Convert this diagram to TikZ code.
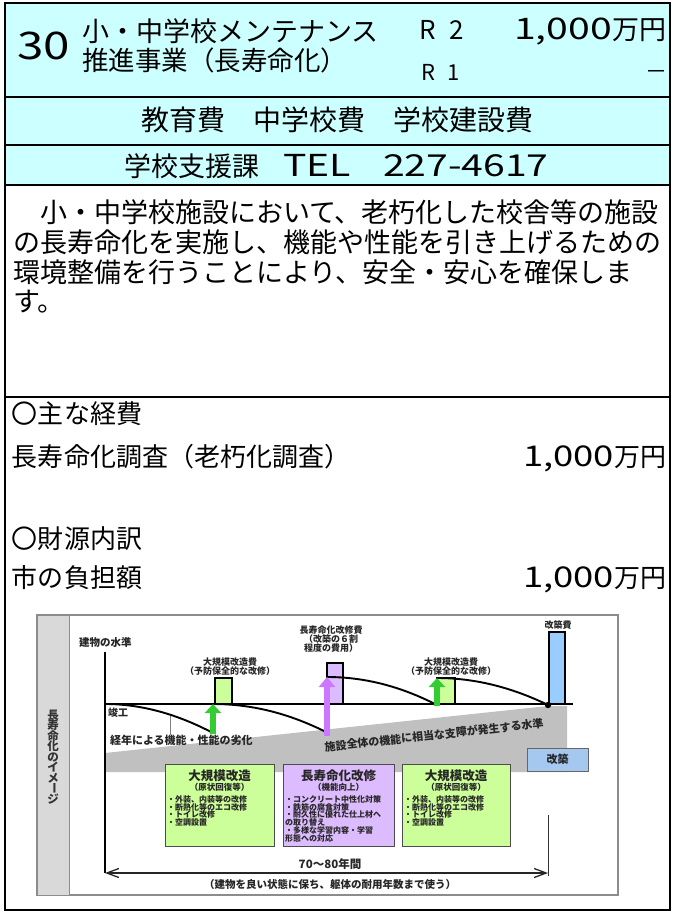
\documentclass[tikz,border=0pt]{standalone}
\usepackage{fontspec}
\setmainfont{Noto Sans CJK JP}
\usetikzlibrary{arrows.meta}
\definecolor{hdr}{HTML}{CCFFFF}
\definecolor{lgreen}{HTML}{CCFF99}
\definecolor{lpurple}{HTML}{DDBBFF}
\definecolor{lblue}{HTML}{99CCFF}
\definecolor{kblue}{HTML}{A4C8F0}
\definecolor{bandgray}{HTML}{C0C0C0}
\definecolor{colgray}{HTML}{D9D9D9}
\definecolor{agreen}{HTML}{33CC33}
\definecolor{apurple}{HTML}{CC77FF}
\newcommand\fsz[1]{\fontsize{#1}{#1}\selectfont}
\newcommand\wdig[3]{\scalebox{#1}[#2]{#3}}
\begin{document}
\begin{tikzpicture}[x=1pt,y=-1pt,
  tx/.style={inner sep=0pt,outer sep=0pt},
  dtx/.style={tx,text=black!85,font={\bfseries\fsz{9}}},
  itemtx/.style={tx,anchor=west,text=black!85,font={\bfseries\fsz{8}}},
  btitle/.style={tx,text=black!85,font={\bfseries\fsz{12.5}}},
  bsub/.style={tx,text=black!85,font={\bfseries\fsz{8.5}}},
  bigbox/.style={draw=black!70,line width=0.8pt,minimum width=109pt,minimum height=82pt,anchor=north west,inner sep=0pt},
  smallbox/.style={draw=black,line width=1.6pt},
  curve/.style={line width=1.9pt,black},
  vch/.style={tx,text=black!80,font={\bfseries\fsz{11.5}}},
  rowline/.style={line width=1.2pt}
]
\useasboundingbox (0,0) rectangle (674,912);
\fill[white] (0,0) rectangle (674,912);
% ---------- header ----------
\fill[hdr] (5,3) rectangle (670,185);
\draw[rowline] (5,97) -- (670,97);
\draw[rowline] (5,145) -- (670,145);
\draw[rowline] (5,185) -- (670,185);
\draw[rowline] (5,397) -- (670,397);
\draw[line width=1.5pt] (5,3) rectangle (670,910);

\node[tx,anchor=base west,font={\fsz{38}}] (no) at (17,60) {\wdig{1.25}{1}{30}};
\node[tx,anchor=base west,font={\fsz{27}}] (ti1) at (82,42) {小・中学校メンテナンス};
\node[tx,anchor=base west,font={\fsz{26.5}}] (ti2) at (82,71) {推進事業（長寿命化）};
\node[tx,anchor=base west,font={\fsz{26}}] (r2) at (419,40) {R\hspace{14pt}2};
\node[tx,anchor=base east,font={\fsz{27}}] (amt) at (666,40) {\wdig{1.45}{1.1}{1,000}万円};
\node[tx,anchor=base west,font={\fsz{22}}] (r1) at (421,81) {R\hspace{13pt}1};
\node[tx,anchor=base east,font={\fsz{22}}] (dash) at (667,80) {－};

\node[tx,anchor=base,font={\fsz{28}}] (cat) at (337,131) {教育費　中学校費　学校建設費};
\node[tx,anchor=base west,font={\fsz{27}}] (dept) at (124,176) {学校支援課};
\node[tx,anchor=base west,font={\fsz{27}}] (tel) at (283,176) {\wdig{1.45}{1.12}{TEL}};
\node[tx,anchor=base west,font={\fsz{27}}] (telno) at (383,176) {\wdig{1.45}{1.12}{227-4617}};

% ---------- description ----------
\node[tx,anchor=base west,font={\fsz{27}}] (d1) at (13,222) {　小・中学校施設において、老朽化した校舎等の施設};
\node[tx,anchor=base west,font={\fsz{27}}] (d2) at (13,252) {の長寿命化を実施し、機能や性能を引き上げるための};
\node[tx,anchor=base west,font={\fsz{27}}] (d3) at (13,282) {環境整備を行うことにより、安全・安心を確保しま};
\node[tx,anchor=base west,font={\fsz{27}}] (d4) at (13,311) {す。};

% ---------- expenses ----------
\node[tx,anchor=base west,font={\fsz{26}}] (e1) at (12,423) {〇主な経費};
\node[tx,anchor=base west,font={\fsz{26}}] (e2) at (12,466) {長寿命化調査（老朽化調査）};
\node[tx,anchor=base east,font={\fsz{26}}] (e2v) at (666,466) {\wdig{1.4}{1.1}{1,000}万円};
\node[tx,anchor=base west,font={\fsz{26}}] (e3) at (12,548) {〇財源内訳};
\node[tx,anchor=base west,font={\fsz{26}}] (e4) at (12,587) {市の負担額};
\node[tx,anchor=base east,font={\fsz{26}}] (e4v) at (666,587) {\wdig{1.4}{1.1}{1,000}万円};

% ---------- diagram ----------
\draw[draw=black!45,line width=1.2pt,fill=white] (37,615) rectangle (618,895);
\draw[draw=black!45,line width=1pt,fill=colgray] (37,615) rectangle (69,895);
\node[vch] (v1) at (53,715) {長};
\node[vch] (v2) at (53,725.5) {寿};
\node[vch] (v3) at (53,736) {命};
\node[vch] (v4) at (53,746.5) {化};
\node[vch] (v5) at (53,757) {の};
\node[vch] (v6) at (53,767.5) {イ};
\node[vch] (v7) at (53,778) {メ};
\node[vch,rotate=-90] (v8) at (53,788.5) {ー};
\node[vch] (v9) at (53,799) {ジ};

% threshold band
\fill[bandgray] (105,753) -- (548,706) -- (567,706) -- (567,772) -- (105,772) -- cycle;

\coordinate (axTop) at (105,652);
\coordinate (p0) at (105,704);
\coordinate (axBot) at (105,873);
\coordinate (baseR) at (573,704);
\draw[line width=1.5pt] (axTop) -- (axBot);
\draw[line width=1.2pt] (p0) -- (baseR);

\node[dtx,anchor=west,font={\bfseries\fsz{10.5}}] (lvl) at (79,643) {建物の水準};

% small cost boxes
\draw[smallbox,fill=lgreen] (215,678) rectangle (232,704);
\draw[smallbox,fill=lpurple] (327,663) rectangle (343,704);
\draw[smallbox,fill=lgreen] (437,678) rectangle (455,704);
\draw[line width=2pt,fill=lblue] (549,632) rectangle (565,704);

% deterioration curves
\coordinate (c1e) at (213,733);
\coordinate (c2s) at (213,704);
\coordinate (c2e) at (326,732);
\coordinate (c3s) at (327,677);
\coordinate (c3e) at (437,705);
\coordinate (c4s) at (437,678);
\coordinate (c4e) at (548,705);
\draw[curve] (p0) .. controls (141,704) and (177,714) .. (c1e);
\draw[curve] (c2s) .. controls (251,704) and (288,713) .. (c2e);
\draw[curve] (c3s) .. controls (364,677) and (400,686) .. (c3e);
\draw[curve] (c4s) .. controls (474,678) and (511,687) .. (c4e);

% upgrade arrows
\draw[agreen,line width=6pt,-{Triangle[width=16pt,length=9pt]}] (213,734) -- (213,704);
\draw[agreen,line width=6pt,-{Triangle[width=16pt,length=9pt]}] (437,706) -- (437,678);
\draw[apurple,line width=6pt,-{Triangle[width=16pt,length=10pt]}] (327,736) -- (c3s);
\fill (c4e) circle (3.2pt);

% labels above
\node[dtx] (lb1a) at (230,662) {大規模改造費};
\node[dtx] (lb1b) at (230,671) {（予防保全的な改修）};
\node[dtx] (lb2a) at (331,630) {長寿命化改修費};
\node[dtx] (lb2b) at (331,639) {（改築の６割};
\node[dtx] (lb2c) at (331,648) {程度の費用）};
\node[dtx] (lb3a) at (451,662) {大規模改造費};
\node[dtx] (lb3b) at (451,671) {（予防保全的な改修）};
\node[dtx] (lb4) at (558,625) {改築費};

\node[dtx,anchor=west,font={\bfseries\fsz{10}}] (kan) at (108,713) {竣工};
\node[dtx,anchor=west,font={\bfseries\fsz{11}}] (rek) at (110,740) {経年による機能・性能の劣化};
\coordinate (ldT) at (170,716);
\draw[black!50,line width=1pt] (ldT) -- (rek.north -| ldT);
\node[dtx,font={\bfseries\fsz{11}},rotate=6.3] (thr) at (434,735) {施設全体の機能に相当な支障が発生する水準};
\node[draw=black!60,line width=0.8pt,fill=kblue,minimum width=61pt,minimum height=23pt,inner sep=0pt,text=black!85,font={\bfseries\fsz{11}}] (kaichiku) at (557.5,759.5) {改築};

% description boxes
\node[bigbox,fill=lgreen] (g1) at (165,764) {};
\node[btitle] (g1t) at (219.5,776) {大規模改造};
\node[bsub] (g1s) at (219.5,787) {（原状回復等）};
\node[itemtx] (g1i1) at (167,799) {・外装、内装等の改修};
\node[itemtx] (g1i2) at (167,807) {・断熱化等のエコ改修};
\node[itemtx] (g1i3) at (167,814.5) {・トイレ改修};
\node[itemtx] (g1i4) at (167,822) {・空調設置};

\node[bigbox,fill=lpurple,minimum width=111pt] (pp) at (283,764) {};
\node[btitle] (ppt) at (338.5,776) {長寿命化改修};
\node[bsub] (pps) at (338.5,787) {（機能向上）};
\node[itemtx] (ppi1) at (285,799) {・コンクリート中性化対策};
\node[itemtx] (ppi2) at (285,807) {・鉄筋の腐食対策};
\node[itemtx] (ppi3) at (285,814.5) {・耐久性に優れた仕上材へ};
\node[itemtx] (ppi4) at (285,822) {の取り替え};
\node[itemtx] (ppi5) at (285,830) {・多様な学習内容・学習};
\node[itemtx] (ppi6) at (285,838) {形態への対応};

\node[bigbox,fill=lgreen,minimum width=108pt] (g2) at (402,764) {};
\node[btitle] (g2t) at (456,776) {大規模改造};
\node[bsub] (g2s) at (456,787) {（原状回復等）};
\node[itemtx] (g2i1) at (404,799) {・外装、内装等の改修};
\node[itemtx] (g2i2) at (404,807) {・断熱化等のエコ改修};
\node[itemtx] (g2i3) at (404,814.5) {・トイレ改修};
\node[itemtx] (g2i4) at (404,822) {・空調設置};

% lifetime arrow
\coordinate (arL) at (105,873);
\coordinate (arR) at (548,873);
\coordinate (rvT) at (548,815);
\draw[black!80,line width=1pt] (rvT) -- ([yshift=-3pt]arR);
\draw[black!85,line width=1.3pt,{Straight Barb[length=12pt,width=9pt]}-{Straight Barb[length=12pt,width=9pt]}] (arL) -- (arR);
\node[dtx,font={\bfseries\fsz{11.5}}] (yrs) at (330,864) {70～80年間};
\node[dtx,font={\bfseries\fsz{10.5}}] (keep) at (330,884) {（建物を良い状態に保ち、躯体の耐用年数まで使う）};
\end{tikzpicture}
\end{document}
